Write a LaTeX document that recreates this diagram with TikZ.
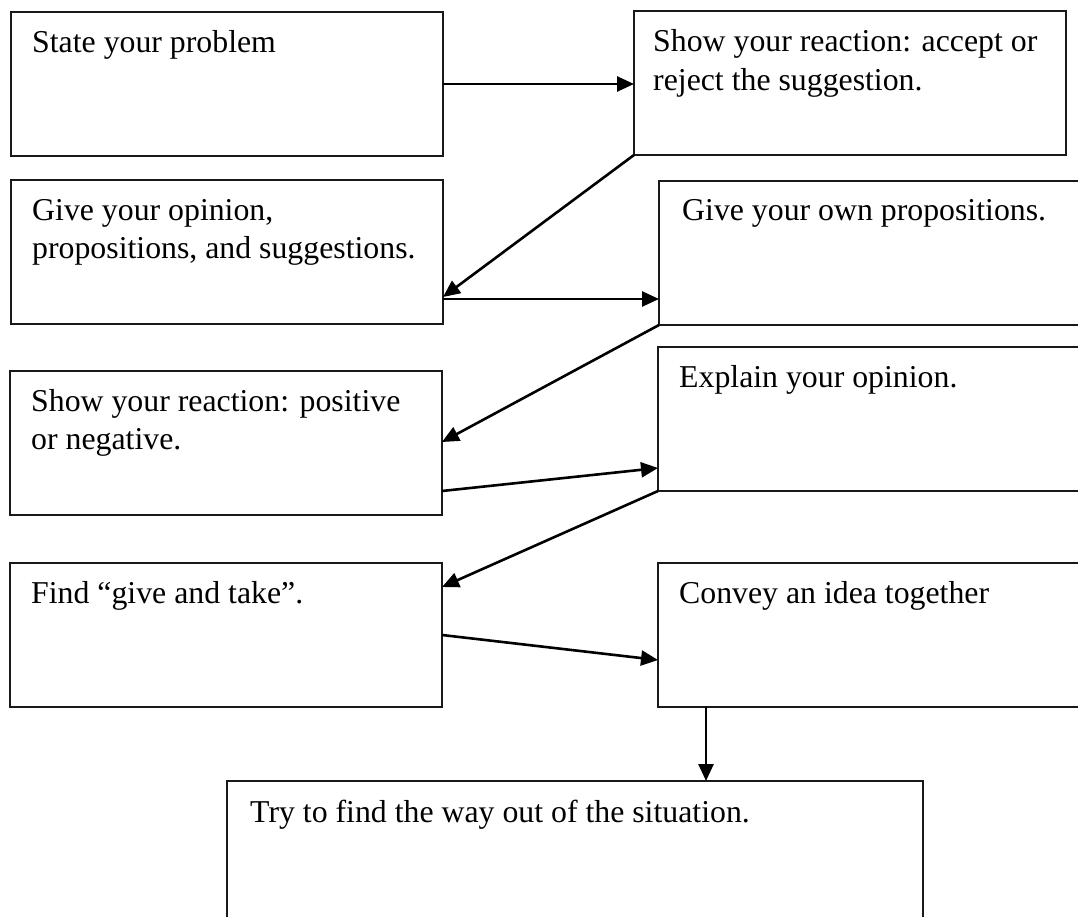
\documentclass[tikz,border=0pt]{standalone}
\usepackage{fontspec}
\setmainfont{Liberation Serif}
\usetikzlibrary{arrows.meta}
\begin{document}
\begin{tikzpicture}[x=1pt,y=-1pt,
  box/.style={draw=black!90, line width=1.9pt, rectangle, minimum width=#1, minimum height=144pt, anchor=north west, inner sep=0pt, outer sep=0pt},
  box/.default=432pt,
  txt/.style={anchor=base west, align=left, inner sep=0pt, font=\fontsize{31.8}{38.2}\selectfont},
  arr/.style={line width=2.6pt, draw=black, -{Triangle[length=17pt,width=15pt]}}]
\useasboundingbox (0,0) rectangle (1078,917);
\clip (0,0) rectangle (1078,917);
\fill[white] (0,0) rectangle (1078,917);

\node[box] (b1) at (11,12) {};
\node[box] (b2) at (634,11) {};
\node[box] (b3) at (11,180) {};
\node[box=460pt] (b4) at (659,181) {};
\node[box] (b5) at (10,371) {};
\node[box=460pt] (b6) at (658,347) {};
\node[box] (b7) at (10,563) {};
\node[box=460pt] (b8) at (658,563) {};
\node[box=696pt, minimum height=200pt] (b9) at (227,781) {};

% multi-line texts are anchored at the baseline of their last line
\node[txt] (t1) at ([xshift=21pt,yshift=-41pt]b1.north west) {State your problem};
\node[txt] (t2) at ([xshift=19pt,yshift=-79.2pt]b2.north west) {Show your reaction: accept or\\reject the suggestion.};
\node[txt] (t3) at ([xshift=21pt,yshift=-78.2pt]b3.north west) {Give your opinion,\\propositions, and suggestions.};
\node[txt] (t4) at ([xshift=23pt,yshift=-40pt]b4.north west) {Give your own propositions.};
\node[txt] (t5) at ([xshift=21pt,yshift=-78.2pt]b5.north west) {Show your reaction: positive\\or negative.};
\node[txt] (t6) at ([xshift=21pt,yshift=-40pt]b6.north west) {Explain your opinion.};
\node[txt] (t7) at ([xshift=21pt,yshift=-40pt]b7.north west) {Find “give and take”.};
\node[txt] (t8) at ([xshift=21pt,yshift=-40pt]b8.north west) {Convey an idea together};
\node[txt] (t9) at ([xshift=23pt,yshift=-41pt]b9.north west) {Try to find the way out of the situation.};

\draw[arr] (b1.east) -- (b1.east -| b2.west);
\draw[arr] (b2.south west) -- ([yshift=-117pt]b3.north east);
\draw[arr] ([yshift=-119pt]b3.north east) -- ([yshift=-119pt]b3.north east -| b4.west);
\draw[arr] (b4.south west) -- ([yshift=-71pt]b5.north east);
\draw[arr] ([yshift=-120pt]b5.north east) -- ([yshift=-121pt]b6.north west);
\draw[arr] (b6.south west) -- ([yshift=-24pt]b7.north east);
\draw[arr] ([yshift=-72pt]b7.north east) -- ([yshift=-97pt]b8.north west);
\draw[arr] ([xshift=48pt]b8.south west) -- ([xshift=48pt]b8.south west |- b9.north);
\end{tikzpicture}
\end{document}
